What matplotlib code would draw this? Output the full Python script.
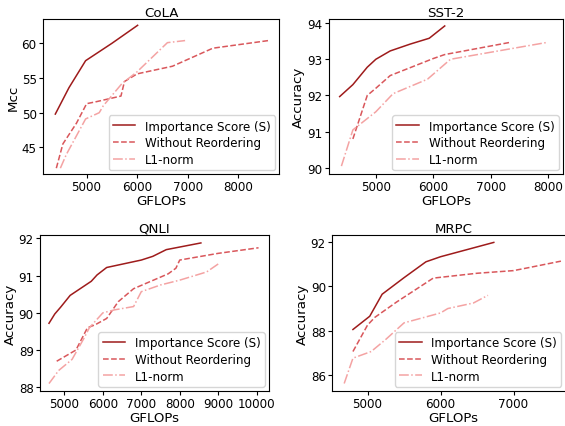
import matplotlib
matplotlib.use("Agg")
from matplotlib import pyplot as plt
from matplotlib.ticker import MultipleLocator

LABELS = ["Importance Score (S)", "Without Reordering", "L1-norm"]

# CoLA
cola_imp_x = [4380, 4650, 4980, 5500, 6010]
cola_imp_y = [49.8, 53.6, 57.5, 60.0, 62.6]
cola_wo_x = [4400, 4530, 4800, 5000, 5200, 5680, 5750, 6000, 6700, 7500, 8600]
cola_wo_y = [42.0, 45.5, 48.5, 51.3, 51.6, 52.4, 54.5, 55.6, 56.7, 59.3, 60.4]
cola_l1_x = [4480, 4600, 4980, 5250, 5330, 5700, 6000, 6600, 6950]
cola_l1_y = [42.0, 44.0, 49.1, 50.0, 51.0, 54.2, 55.9, 60.1, 60.4]

# SST-2
sst_imp_x = [4370, 4600, 4850, 5000, 5250, 5600, 5930, 6200]
sst_imp_y = [91.97, 92.3, 92.78, 93.0, 93.23, 93.42, 93.58, 93.92]
sst_wo_x = [4600, 4850, 5000, 5250, 6000, 6200, 7350]
sst_wo_y = [90.8, 92.0, 92.2, 92.55, 93.02, 93.13, 93.47]
sst_l1_x = [4400, 4600, 5000, 5300, 5900, 6300, 8000]
sst_l1_y = [90.05, 91.05, 91.55, 92.05, 92.45, 93.0, 93.47]

# QNLI
qnli_imp_x = [4600, 4750, 4900, 5150, 5700, 5850, 6100, 7000, 7300, 7650, 8000, 8550]
qnli_imp_y = [89.72, 89.97, 90.15, 90.47, 90.85, 91.02, 91.22, 91.42, 91.52, 91.7, 91.77, 91.88]
qnli_wo_x = [4800, 5300, 5600, 5800, 6100, 6400, 6800, 7700, 7900, 8000, 9000, 10050]
qnli_wo_y = [88.7, 89.0, 89.6, 89.68, 89.85, 90.3, 90.65, 91.05, 91.2, 91.42, 91.6, 91.75]
qnli_l1_x = [4600, 4850, 5200, 5500, 5650, 6000, 6300, 6800, 7000, 7500, 8000, 8700, 9050]
qnli_l1_y = [88.1, 88.45, 88.75, 89.3, 89.6, 90.0, 90.08, 90.17, 90.57, 90.75, 90.88, 91.1, 91.35]

# MRPC
mrpc_imp_x = [4800, 5030, 5200, 5500, 5800, 6000, 6730]
mrpc_imp_y = [88.05, 88.65, 89.65, 90.4, 91.12, 91.35, 92.0]
mrpc_wo_x = [4800, 5000, 5100, 5400, 5900, 6500, 7000, 7200, 7650]
mrpc_wo_y = [87.05, 88.25, 88.6, 89.3, 90.38, 90.6, 90.72, 90.85, 91.15]
mrpc_l1_x = [4680, 4800, 5050, 5250, 5500, 6000, 6100, 6450, 6650]
mrpc_l1_y = [85.6, 86.75, 87.05, 87.6, 88.35, 88.8, 89.0, 89.25, 89.6]

COLORS = ["#9e1b1b", "#d9575b", "#f4a3a3"]
STYLES = ["-", "--", "-."]

panels = [
    ("CoLA", "Mcc", [0.076, 0.590, 0.418, 0.363], (4135, 8812), (41.15, 63.5),
     [(cola_imp_x, cola_imp_y), (cola_wo_x, cola_wo_y), (cola_l1_x, cola_l1_y)]),
    ("SST-2", "Accuracy", [0.582, 0.590, 0.414, 0.363], (4181, 8256), (89.83, 94.11),
     [(sst_imp_x, sst_imp_y), (sst_wo_x, sst_wo_y), (sst_l1_x, sst_l1_y)]),
    ("QNLI", "Accuracy", [0.071, 0.082, 0.405, 0.365], (4369, 10320), (87.9, 92.09),
     [(qnli_imp_x, qnli_imp_y), (qnli_wo_x, qnli_wo_y), (qnli_l1_x, qnli_l1_y)]),
    ("MRPC", "Accuracy", [0.588, 0.082, 0.430, 0.365], (4516, 7845), (85.26, 92.33),
     [(mrpc_imp_x, mrpc_imp_y), (mrpc_wo_x, mrpc_wo_y), (mrpc_l1_x, mrpc_l1_y)]),
]

fig = plt.figure(figsize=(5.65, 4.27), dpi=100)
tick_fs = 8.6
lab_fs = 9.6
leg_fs = 8.6

for title, ylabel, rect, xlim, ylim, series in panels:
    ax = fig.add_axes(rect)
    for (xs, ys), c, ls, lab in zip(series, COLORS, STYLES, LABELS):
        ax.plot(xs, ys, color=c, linestyle=ls, linewidth=1.1, label=lab)
    ax.set_xlim(*xlim)
    ax.set_ylim(*ylim)
    ax.xaxis.set_major_locator(MultipleLocator(1000))
    ax.set_title(title, fontsize=lab_fs, pad=2.5)
    ax.set_xlabel("GFLOPs", fontsize=lab_fs, labelpad=0.5)
    ax.set_ylabel(ylabel, fontsize=lab_fs, labelpad=1.5)
    ax.tick_params(labelsize=tick_fs, length=3, pad=1.5)
    leg_kw = dict(fontsize=leg_fs, labelspacing=0.3, handlelength=1.9,
                  handletextpad=0.8, borderpad=0.35, borderaxespad=0.35)
    if title == "MRPC":
        ax.legend(loc="lower right", bbox_to_anchor=(0.96, 0.0), **leg_kw)
    else:
        ax.legend(loc="lower right", **leg_kw)

fig.savefig("out.png", dpi=100)
